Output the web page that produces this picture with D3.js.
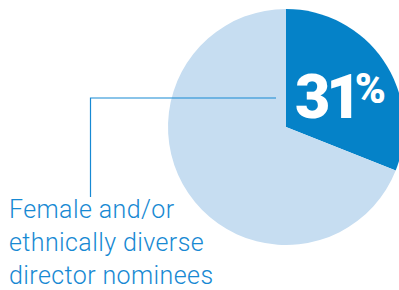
<!DOCTYPE html>
<html>
<head>
<meta charset="utf-8">
<script src="https://cdn.jsdelivr.net/npm/d3@7"></script>
<style>
  body { margin: 0; background: #fff; }
  svg { display: block; font-family: Roboto, "Noto Sans", sans-serif; }
</style>
</head>
<body>
<svg width="399" height="290"></svg>
<script>
  // chart data
  const categories = ['Female and/or ethnically diverse', 'Other'];
  const values = [31, 69];
  const colors = ['#0582c8', '#c6ddf1'];
  const labelLines = ['Female and/or', 'ethnically diverse', 'director nominees'];

  const svg = d3.select('svg');
  const cx = 286, cy = 127, radius = 118;

  const pie = d3.pie().sort(null).value(d => d);
  const arc = d3.arc().innerRadius(0).outerRadius(radius);

  const g = svg.append('g').attr('transform', `translate(${cx},${cy})`);

  g.selectAll('path').data(pie(values))
    .enter().append('path')
      .attr('d', arc)
      .attr('fill', (d, i) => colors[i]);

  // big percentage label inside the slice
  const pct = g.append('text')
    .attr('x', 9)
    .attr('y', -9)
    .attr('fill', '#fff')
    .attr('font-weight', 900);
  pct.append('tspan')
    .attr('font-size', 61)
    .attr('letter-spacing', -4)
    .text(values[0]);
  pct.append('tspan')
    .attr('font-size', 42)
    .attr('dy', -15)
    .attr('dx', -3)
    .text('%');

  // leader line
  const lineColor = '#1789d3';
  svg.append('path')
    .attr('d', d3.line()([[276, 98], [90.5, 98], [90.5, 197]]))
    .attr('fill', 'none')
    .attr('stroke', lineColor)
    .attr('stroke-width', 1.2);

  // category label
  svg.append('g').selectAll('text').data(labelLines)
    .enter().append('text')
      .attr('x', 9)
      .attr('y', (d, i) => 218 + i * 33)
      .attr('fill', lineColor)
      .attr('font-size', 25)
      .attr('font-weight', 300)
      .attr('letter-spacing', 0.4)
      .text(d => d);
</script>
</body>
</html>
